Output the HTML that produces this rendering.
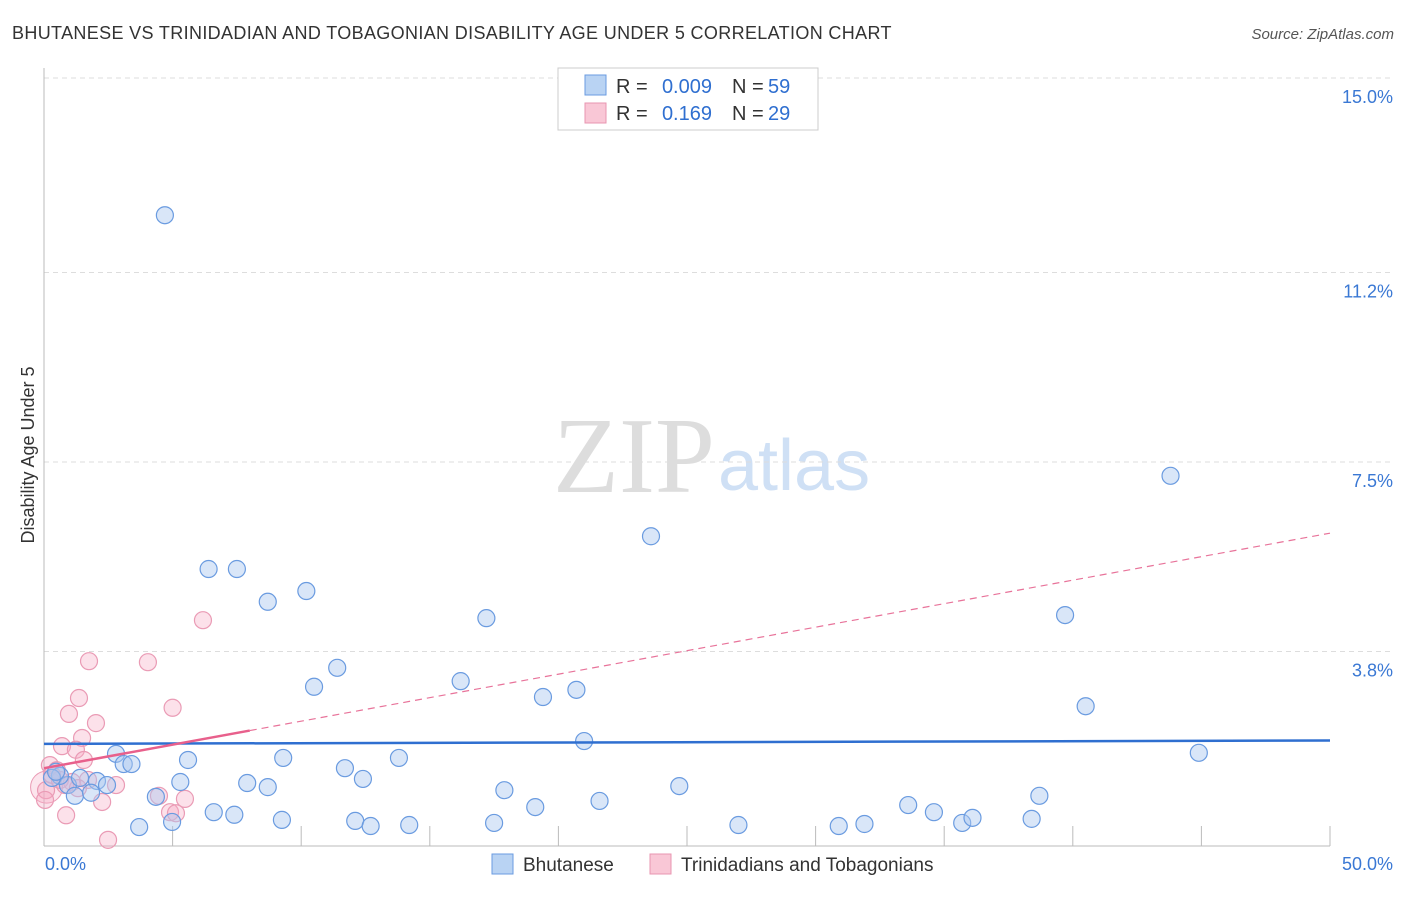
<!DOCTYPE html>
<html><head><meta charset="utf-8"><style>
body{margin:0;background:#fff;font-family:"Liberation Sans",sans-serif;}
#wrap{position:relative;width:1406px;height:892px;}
</style></head><body><div id="wrap">
<svg id="svg" width="1406" height="892" xmlns="http://www.w3.org/2000/svg">
<text x="12" y="39" font-size="18" fill="#333" letter-spacing="0.35">BHUTANESE VS TRINIDADIAN AND TOBAGONIAN DISABILITY AGE UNDER 5 CORRELATION CHART</text>
<text x="1394" y="39" font-size="15" fill="#555" font-style="italic" text-anchor="end">Source: ZipAtlas.com</text>
<text transform="translate(34,455) rotate(-90)" font-size="18" fill="#333" text-anchor="middle">Disability Age Under 5</text>
<text x="553" y="492" font-size="108" fill="#ddd" font-family="Liberation Serif,serif">ZIP</text>
<text x="718" y="490" font-size="72" fill="#cfe0f5">atlas</text>
<g id="grid"></g><g id="pts"></g><g id="trend"></g>
<g>
<rect x="558" y="68" width="260" height="62" fill="#fff" stroke="#ccc"/>
<rect x="585" y="75" width="21" height="20" fill="#b9d3f3" stroke="#6a9be0"/>
<rect x="585" y="103" width="21" height="20" fill="#f9c7d6" stroke="#e896b0"/>
<text x="616" y="93" font-size="20" fill="#333">R =</text>
<text x="712" y="93" font-size="20" fill="#2f6fd0" text-anchor="end">0.009</text>
<text x="732" y="93" font-size="20" fill="#333">N =</text>
<text x="768" y="93" font-size="20" fill="#2f6fd0">59</text>
<text x="616" y="120" font-size="20" fill="#333">R =</text>
<text x="712" y="120" font-size="20" fill="#2f6fd0" text-anchor="end">0.169</text>
<text x="732" y="120" font-size="20" fill="#333">N =</text>
<text x="768" y="120" font-size="20" fill="#2f6fd0">29</text>
</g>
<g>
<rect x="492" y="854" width="21" height="20" fill="#b9d3f3" stroke="#6a9be0"/>
<text x="523" y="871" font-size="19" fill="#333">Bhutanese</text>
<rect x="650" y="854" width="21" height="20" fill="#f9c7d6" stroke="#e896b0"/>
<text x="681" y="871" font-size="19" fill="#333">Trinidadians and Tobagonians</text>
</g>
</svg>
<script>
const yTicks=[15.0,11.2,7.5,3.8];
const yTickLabels=["15.0%","11.2%","7.5%","3.8%"];
const xTickLabels=["0.0%","50.0%"];
const blueX=[4.7,23.6,43.8,6.4,7.5,8.7,10.2,17.2,39.7,11.4,10.5,16.2,19.4,20.7,40.5,21.0,2.8,5.6,9.3,13.8,44.9,3.1,3.4,11.7,5.3,7.9,8.7,12.4,0.93,2.06,2.45,0.62,0.31,1.2,1.83,4.35,17.9,24.7,38.7,6.6,7.4,19.1,21.6,33.6,34.6,9.25,12.1,12.7,14.2,17.5,3.7,4.98,27.0,30.9,31.9,35.7,36.1,38.4,0.47,1.4];
const blueY=[12.32,6.05,7.23,5.41,5.41,4.77,4.98,4.45,4.51,3.48,3.11,3.22,2.91,3.05,2.73,2.05,1.8,1.68,1.72,1.72,1.82,1.6,1.6,1.52,1.25,1.23,1.15,1.31,1.19,1.27,1.19,1.37,1.33,0.98,1.04,0.96,1.09,1.17,0.98,0.66,0.61,0.76,0.88,0.8,0.66,0.51,0.49,0.39,0.41,0.45,0.37,0.47,0.41,0.39,0.43,0.45,0.55,0.53,1.45,1.33];
const pinkX=[6.18,1.75,4.04,1.36,0.97,5.0,2.02,1.48,0.7,1.24,1.55,0.23,0.5,0.08,1.09,1.71,2.8,4.47,5.48,2.26,4.9,5.13,0.86,2.49,0.31,0.62,0.82,1.32,0.04];
const pinkY=[4.41,3.61,3.59,2.89,2.58,2.7,2.4,2.11,1.95,1.88,1.68,1.58,1.48,1.09,1.25,1.29,1.19,0.98,0.92,0.86,0.66,0.64,0.6,0.12,1.39,1.29,1.19,1.13,0.9];
const blueTrend=[1.995,2.06];
const pinkTrend=[1.52,6.11];
const pinkSolidEnd=8.0;
const X0=44,X1=1330,Y0=846,YT=78;
const sx=v=>X0+(X1-X0)*v/50, sy=v=>Y0-(Y0-YT)*v/15;
const NS="http://www.w3.org/2000/svg";
function mk(p,t,a){const e=document.createElementNS(NS,t);for(const k in a)e.setAttribute(k,a[k]);p.appendChild(e);return e;}
const grid=document.getElementById('grid');
yTicks.forEach((t,i)=>{
const l=mk(grid,'line',{x1:X0,x2:X1+60,y1:sy(t),y2:sy(t),stroke:'#ddd','stroke-dasharray':'5,4'});


const tx=mk(grid,'text',{x:1393,y:sy(t)+25,'font-size':18,fill:'#3a78d4','text-anchor':'end'});tx.textContent=yTickLabels[i];


});
const ax=mk(grid,'line',{x1:X0,x2:X0,y1:68,y2:Y0,stroke:'#bbb'});


const bx=mk(grid,'line',{x1:X0,x2:X1,y1:Y0,y2:Y0,stroke:'#bbb'});


for(let i=1;i<=10;i++){const t=mk(grid,'line',{x1:sx(i*5),x2:sx(i*5),y1:826,y2:Y0,stroke:'#bbb'});

}
[[X0+1,'start'],[1393,'end']].forEach((p,i)=>{const t=mk(grid,'text',{x:p[0],y:870,'font-size':18,fill:'#3a78d4','text-anchor':p[1]});t.textContent=xTickLabels[i];

});
const pts=document.getElementById('pts');
const big=mk(pts,'circle',{cx:sx(0.1),cy:sy(1.15),r:16,fill:'rgba(245,170,195,0.3)',stroke:'#ea9bb5','stroke-width':1});


pinkX.forEach((v,i)=>{const c=mk(pts,'circle',{cx:sx(v),cy:sy(pinkY[i]),r:8.5,fill:'rgba(245,170,195,0.35)',stroke:'#ea9bb5','stroke-width':1.2});

});
blueX.forEach((v,i)=>{const c=mk(pts,'circle',{cx:sx(v),cy:sy(blueY[i]),r:8.5,fill:'rgba(170,200,240,0.45)',stroke:'#6a9be0','stroke-width':1.2});

});
const tr=document.getElementById('trend');
const bl=mk(tr,'line',{x1:sx(0),x2:sx(50),y1:sy(blueTrend[0]),y2:sy(blueTrend[1]),stroke:'#2f6fd0','stroke-width':2.5});


const pm=v=>pinkTrend[0]+(pinkTrend[1]-pinkTrend[0])*v/50;
const pd=mk(tr,'line',{x1:sx(pinkSolidEnd),x2:sx(50),y1:sy(pm(pinkSolidEnd)),y2:sy(pm(50)),stroke:'#e8739a','stroke-width':1.2,'stroke-dasharray':'7,5'});


const ps=mk(tr,'line',{x1:sx(0),x2:sx(pinkSolidEnd),y1:sy(pm(0)),y2:sy(pm(pinkSolidEnd)),stroke:'#e8608c','stroke-width':2.5});


</script></div></body></html>
